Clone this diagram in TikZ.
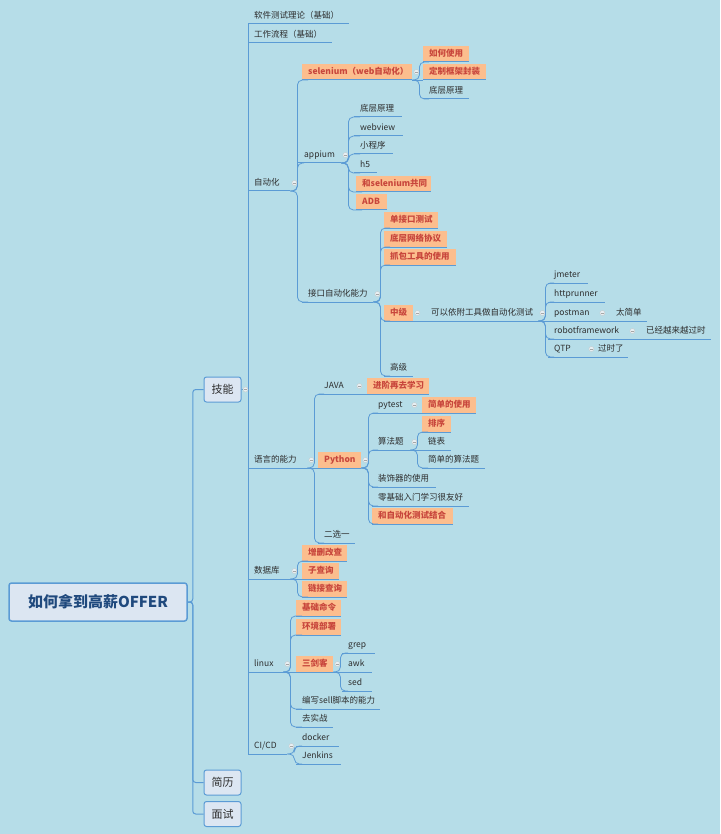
\documentclass[tikz,border=0pt]{standalone}
\usepackage{fontspec}
\setmainfont{Noto Sans CJK SC}
\definecolor{bg}{RGB}{182,221,232}
\definecolor{linkblue}{RGB}{91,155,213}
\definecolor{hotfill}{RGB}{252,190,142}
\definecolor{hottxt}{RGB}{200,70,60}
\definecolor{txt}{RGB}{45,45,45}
\definecolor{rootfill}{RGB}{220,230,242}
\definecolor{roottxt}{RGB}{31,73,125}
\definecolor{knobfill}{RGB}{232,240,244}
\tikzset{
  leaf/.style={anchor=south west, inner xsep=6pt, inner ysep=3.5pt, text height=7pt, text depth=2pt,
    align=left, font=\fontsize{8.5}{10}\selectfont, text=txt},
  hot/.style={leaf, fill=hotfill, text=hottxt, font=\fontsize{8.5}{10}\selectfont\bfseries},
  tw/.style={text width=#1pt},
  topic/.style={draw=linkblue, fill=rootfill, line width=1pt, rounded corners=2.5pt, minimum width=37pt,
    minimum height=25pt, font=\fontsize{11}{13}\selectfont, text=txt},
  root/.style={topic, line width=1.5pt, minimum width=178pt, minimum height=38pt,
    font=\fontsize{15}{17}\selectfont\bfseries, text=roottxt},
  uline/.style={linkblue, line width=1pt},
  trunk/.style={linkblue, line width=1pt, rounded corners=3pt},
  link/.style={linkblue, line width=0.8pt, rounded corners=5pt},
  knob/.style={circle, fill=knobfill, draw=gray!45, line width=0.3pt, inner sep=0pt, minimum size=5pt,
    path picture={\draw[gray!70, line width=0.4pt] ([xshift=1.3pt]path picture bounding box.west) -- ([xshift=-1.3pt]path picture bounding box.east);}},
}
\begin{document}
\begin{tikzpicture}[x=1pt, y=-1pt]
\fill[bg] (0,0) rectangle (720,834);
\useasboundingbox (0,0) rectangle (720,834);

% root and main topics
\node[root] (offer) at (98,602) {如何拿到高薪OFFER};
\node[topic] (skill) at (222.5,389.5) {技能};
\node[topic] (cv) at (222.5,782.5) {简历};
\node[topic] (interview) at (222.5,814) {面试};

% skills
\node[leaf, tw=89] (theory) at (248,24) {软件测试理论（基础）};
\node[leaf, tw=72] (flow) at (248,43) {工作流程（基础）};
\node[leaf, tw=30] (auto) at (248,191) {自动化};
\node[leaf, tw=47] (lang) at (248,468) {语言的能力};
\node[leaf, tw=30] (db) at (248,579) {数据库};
\node[leaf, tw=23] (linux) at (248,672) {linux};
\node[leaf, tw=27] (cicd) at (248,754) {CI/CD};

% automation
\node[hot, tw=98] (selenium) at (302,80) {selenium（web自动化）};
\node[leaf, tw=31] (appium) at (298,163) {appium};
\node[leaf, tw=59] (api) at (302,302) {接口自动化能力};
\node[hot, tw=34] (howto) at (423,62) {如何使用};
\node[hot, tw=51] (wrap) at (423,80) {定制框架封装};
\node[leaf, tw=34] (selcore) at (423,99) {底层原理};
\node[leaf, tw=36] (apcore) at (354,117) {底层原理};
\node[leaf, tw=37] (webview) at (354,136) {webview};
\node[leaf, tw=27] (mini) at (354,154) {小程序};
\node[leaf, tw=11] (h5) at (354,173) {h5};
\node[hot, tw=63] (same) at (356,192) {和selenium共同};
\node[hot, tw=19] (adb) at (356,210) {ADB};
\node[hot, tw=42] (single) at (384,228) {单接口测试};
\node[hot, tw=51] (net) at (384,247) {底层网络协议};
\node[hot, tw=60] (capture) at (384,265) {抓包工具的使用};
\node[hot, tw=17] (mid) at (384,321) {中级};
\node[leaf, tw=17] (high) at (384,376) {高级};
\node[leaf, tw=101] (tools) at (425,321) {可以依附工具做自动化测试};
\node[leaf, tw=28] (jmeter) at (548,283) {jmeter};
\node[leaf, tw=45] (httprunner) at (548,302) {httprunner};
\node[leaf, tw=38] (postman) at (548,321) {postman};
\node[leaf, tw=68] (robot) at (548,339) {robotframework};
\node[leaf, tw=27] (qtp) at (548,357) {QTP};
\node[leaf, tw=25] (easy) at (610,321) {太简单};
\node[leaf, tw=59] (old) at (640,339) {已经越来越过时};
\node[leaf, tw=24] (outdated) at (592,357) {过时了};

% languages
\node[leaf, tw=25] (java) at (318,394) {JAVA};
\node[hot, tw=31] (python) at (318,468) {Python};
\node[leaf, tw=25] (either) at (318,543) {二选一};
\node[hot, tw=50] (advance) at (367,394) {进阶再去学习};
\node[leaf, tw=26] (pytest) at (372,413) {pytest};
\node[leaf, tw=26] (algo) at (372,450) {算法题};
\node[leaf, tw=52] (deco) at (372,487) {装饰器的使用};
\node[leaf, tw=85] (zero) at (372,506) {零基础入门学习很友好};
\node[hot, tw=69] (combine) at (372,524) {和自动化测试结合};
\node[hot, tw=42] (simple) at (422,413) {简单的使用};
\node[hot, tw=17] (sort) at (422,432) {排序};
\node[leaf, tw=17] (linked) at (422,450) {链表};
\node[leaf, tw=51] (easyalgo) at (422,468) {简单的算法题};

% database, linux, ci
\node[hot, tw=33] (crud) at (302,561) {增删改查};
\node[hot, tw=25] (subq) at (302,579) {子查询};
\node[hot, tw=33] (joinq) at (302,597) {链接查询};
\node[hot, tw=33] (basic) at (296,616) {基础命令};
\node[hot, tw=33] (deploy) at (296,635) {环境部署};
\node[hot, tw=25] (three) at (296,672) {三剑客};
\node[leaf, tw=72] (shell) at (296,709) {编写sell脚本的能力};
\node[leaf, tw=25] (practice) at (296,727) {去实战};
\node[leaf, tw=21] (grep) at (342,653) {grep};
\node[leaf, tw=18] (awk) at (342,672) {awk};
\node[leaf, tw=18] (sed) at (342,691) {sed};
\node[leaf, tw=31] (docker) at (296,746) {docker};
\node[leaf, tw=33] (jenkins) at (296,764) {Jenkins};

% underlines
\foreach \n in {theory,flow,auto,lang,db,linux,cicd,selenium,appium,api,howto,wrap,selcore,
    apcore,webview,mini,h5,same,adb,single,net,capture,mid,high,tools,jmeter,httprunner,postman,
    robot,qtp,easy,old,outdated,java,python,either,advance,pytest,algo,deco,zero,combine,simple,
    sort,linked,easyalgo,crud,subq,joinq,basic,deploy,three,shell,practice,grep,awk,sed,docker,jenkins}
  \draw[uline] (\n.south west) -- (\n.south east);

% connectors
\foreach \t in {skill,cv,interview}
  \draw[trunk] (offer.east) -- ++(5,0) |- (\t.west);
\foreach \c in {theory,flow,auto,lang,db,linux,cicd}
  \draw[uline] (skill.east) -- ++(7,0) |- (\c.south west);
\begin{scope}[link]
  \foreach \c in {selenium,appium,api}
    \draw (auto.south east) -- ++(7,0) |- ([xshift=6pt]\c.south west);
  \foreach \c in {howto,selcore}
    \draw (selenium.south east) -- ++(7,0) |- ([xshift=6pt]\c.south west);
  \draw (selenium.south east) -- (wrap.south west);
  \foreach \c in {apcore,webview,mini,h5,same,adb}
    \draw (appium.south east) -- ++(7,0) |- ([xshift=6pt]\c.south west);
  \foreach \c in {single,net,capture,mid,high}
    \draw (api.south east) -- ++(7,0) |- ([xshift=6pt]\c.south west);
  \draw (mid.south east) -- (tools.south west);
  \foreach \c in {jmeter,httprunner,robot,qtp}
    \draw (tools.south east) -- ++(7,0) |- ([xshift=6pt]\c.south west);
  \draw (tools.south east) -- (postman.south west);
  \draw (postman.south east) -- (easy.south west);
  \draw (robot.south east) -- (old.south west);
  \draw (qtp.south east) -- (outdated.south west);
  \foreach \c in {java,either}
    \draw (lang.south east) -- ++(7,0) |- ([xshift=6pt]\c.south west);
  \draw (lang.south east) -- (python.south west);
  \draw (java.south east) -- (advance.south west);
  \foreach \c in {pytest,algo,deco,zero,combine}
    \draw (python.south east) -- ++(7,0) |- ([xshift=6pt]\c.south west);
  \draw (pytest.south east) -- (simple.south west);
  \foreach \c in {sort,easyalgo}
    \draw (algo.south east) -- ++(7,0) |- ([xshift=6pt]\c.south west);
  \draw (algo.south east) -- (linked.south west);
  \foreach \c in {crud,joinq}
    \draw (db.south east) -- ++(7,0) |- ([xshift=6pt]\c.south west);
  \draw (db.south east) -- (subq.south west);
  \foreach \c in {basic,deploy,shell,practice}
    \draw (linux.south east) -- ++(7,0) |- ([xshift=6pt]\c.south west);
  \draw (linux.south east) -- (three.south west);
  \foreach \c in {grep,sed}
    \draw (three.south east) -- ++(7,0) |- ([xshift=6pt]\c.south west);
  \draw (three.south east) -- (awk.south west);
  \foreach \c in {docker,jenkins}
    \draw (cicd.south east) -- ++(7,0) |- ([xshift=6pt]\c.south west);
\end{scope}

% collapse knobs
\node[knob] (skill-k) at ([xshift=4pt]skill.east) {};
\foreach \p in {auto,selenium,appium,api,mid,tools,postman,robot,qtp,lang,java,python,pytest,algo,db,linux,three,cicd}
  \node[knob] (\p-k) at ([xshift=4pt,yshift=8pt]\p.south east) {};
\end{tikzpicture}
\end{document}
